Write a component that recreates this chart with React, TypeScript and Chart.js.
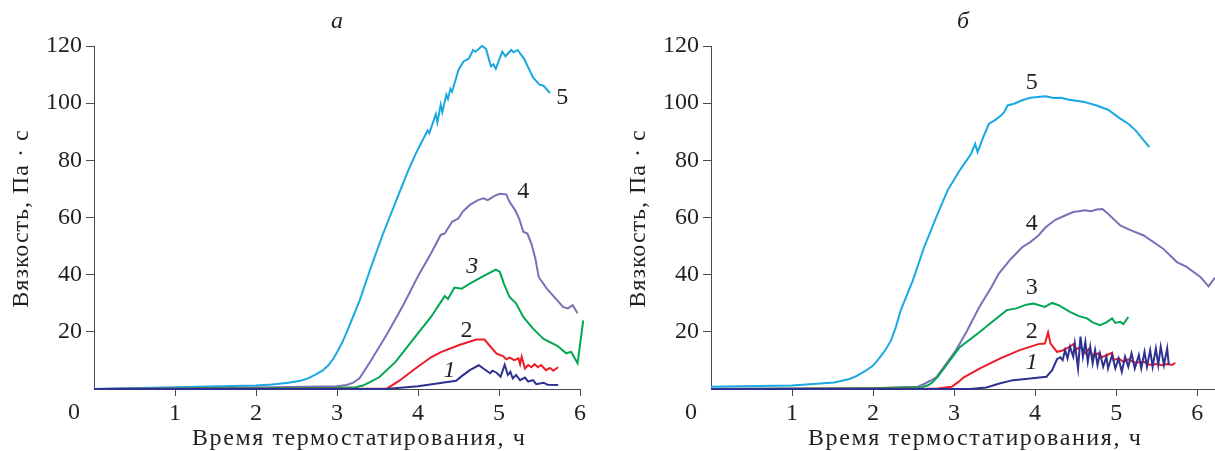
import React, { useEffect, useRef } from 'react';
import { Chart, registerables } from 'chart.js';

Chart.register(...registerables);

type Pt = [number, number];

// ---------- data: [time, viscosity] ----------
// Panel "а"
const A1: Pt[] = [[0,0],[3.6,0],[4.0,1.0],[4.3,2.2],[4.47,2.9],[4.54,4.5],[4.64,6.6],[4.75,8.3],[4.82,6.9],[4.89,5.5],[4.92,6.4],[4.97,5.7],[5.02,4.3],[5.07,8.5],[5.11,4.9],[5.14,6.0],[5.17,3.7],[5.21,4.9],[5.26,3.1],[5.32,4.0],[5.36,2.6],[5.42,3.1],[5.46,1.7],[5.55,2.2],[5.60,1.5],[5.73,1.4]];
const A2: Pt[] = [[0,0],[3.62,0.2],[3.77,2.9],[3.96,7.0],[4.16,11.1],[4.29,13.0],[4.51,15.4],[4.72,17.3],[4.82,17.3],[4.97,12.4],[5.05,11.5],[5.09,10.4],[5.13,11.0],[5.19,10.1],[5.24,10.7],[5.26,8.7],[5.28,11.3],[5.32,7.2],[5.36,8.4],[5.40,7.6],[5.44,8.7],[5.48,7.6],[5.52,8.4],[5.58,6.6],[5.63,7.4],[5.67,6.4],[5.73,7.6]];
const A3: Pt[] = [[0,0],[3.0,0.4],[3.23,0.6],[3.32,1.2],[3.40,2.3],[3.52,4.1],[3.72,9.4],[3.96,18.1],[4.16,25.2],[4.33,32.5],[4.37,31.5],[4.45,35.5],[4.54,35.1],[4.64,36.9],[4.79,39.2],[4.96,41.8],[5.01,41.0],[5.06,36.9],[5.13,32.2],[5.21,30.0],[5.30,25.2],[5.42,21.1],[5.55,17.5],[5.72,15.1],[5.83,12.5],[5.89,13.0],[5.97,9.0],[6.04,24.0]];
const A4: Pt[] = [[0,0],[2.0,0.5],[3.0,1.0],[3.12,1.4],[3.2,2.2],[3.28,3.8],[3.42,10],[3.62,19.3],[3.82,29.5],[4.01,40],[4.16,47.4],[4.28,53.9],[4.33,54.4],[4.42,58.5],[4.50,59.7],[4.55,62],[4.64,64.4],[4.74,66.1],[4.81,66.7],[4.86,66.1],[4.94,67.5],[5.01,68.3],[5.09,68.1],[5.13,65.5],[5.20,62.5],[5.25,59.5],[5.30,55],[5.35,54.4],[5.40,50.9],[5.45,45.5],[5.49,39.2],[5.59,35.1],[5.72,31],[5.79,28.7],[5.85,28.2],[5.91,29.3],[5.97,26.5]];
const A5: Pt[] = [[0,0],[1.0,0.6],[2.0,1.2],[2.2,1.6],[2.4,2.2],[2.55,2.9],[2.65,3.8],[2.74,5.1],[2.82,6.4],[2.89,8.2],[2.95,10.4],[3.01,13.3],[3.07,16.6],[3.13,20.5],[3.28,31],[3.42,42.7],[3.57,54.4],[3.76,68],[3.88,76.5],[3.98,82.8],[4.06,87.2],[4.12,90.4],[4.14,89.5],[4.22,96.2],[4.24,93.3],[4.28,99.5],[4.30,96.8],[4.35,103],[4.37,101.5],[4.40,105],[4.42,104],[4.50,111.6],[4.56,114.5],[4.63,115.7],[4.68,118.6],[4.71,118],[4.79,120],[4.84,119],[4.90,112.9],[4.93,113.6],[4.96,112],[5.04,118],[5.08,116.4],[5.15,118.6],[5.18,117.8],[5.23,118.6],[5.31,115.5],[5.42,109],[5.50,106.5],[5.55,106.1],[5.63,103.5]];

// Panel "б"
const B1: Pt[] = [[0,0],[3.2,0],[3.40,0.5],[3.57,2],[3.73,3.1],[3.94,3.7],[4.14,4.3],[4.21,6.6],[4.27,10.4],[4.31,11.1],[4.34,10.1],[4.37,13.6],[4.40,10.7],[4.43,14.8],[4.47,11.3],[4.49,15.9],[4.53,7.2],[4.56,18.3],[4.59,11.3],[4.62,16.5],[4.65,9.5],[4.68,14.8],[4.71,9],[4.74,13.6],[4.77,8.4],[4.80,12.5],[4.84,7.8],[4.88,11.3],[4.90,7.2],[4.95,11.9],[4.99,7.2],[5.03,10.7],[5.07,6],[5.11,11.3],[5.15,7.8],[5.19,12.5],[5.23,7.2],[5.28,11.9],[5.31,7.2],[5.35,13],[5.38,7.8],[5.42,13.6],[5.45,7.8],[5.49,14.2],[5.52,8.4],[5.55,14.8],[5.59,8.4],[5.63,14.2],[5.65,8.4]];
const B2: Pt[] = [[0,0],[2.8,0.2],[2.97,0.8],[3.05,2.4],[3.12,4.1],[3.32,7.2],[3.57,10.7],[3.81,13.6],[4.04,15.7],[4.12,15.9],[4.16,19.8],[4.19,15.9],[4.27,13],[4.33,13.4],[4.39,14.2],[4.43,14.8],[4.47,15.7],[4.51,13.9],[4.56,14.8],[4.62,12.5],[4.66,13.9],[4.72,11.5],[4.78,12.5],[4.82,11.1],[4.89,11.9],[4.95,12.7],[4.97,10.1],[5.03,10.7],[5.09,9.5],[5.15,10.4],[5.23,9.2],[5.34,9.5],[5.42,8.4],[5.50,8.7],[5.56,8.3],[5.63,8.7],[5.69,8.4],[5.73,9.2]];
const B3: Pt[] = [[0,0],[2.0,0.3],[2.6,0.6],[2.68,1.3],[2.73,2.3],[2.8,4.3],[2.87,7],[3.07,14.6],[3.32,20],[3.46,23.3],[3.65,27.6],[3.77,28.2],[3.89,29.5],[3.98,29.9],[4.12,28.7],[4.21,30.1],[4.29,29.3],[4.43,27],[4.54,25.5],[4.64,24.7],[4.71,23.3],[4.80,22.3],[4.88,23.3],[4.95,24.7],[4.99,23.1],[5.05,23.5],[5.09,22.7],[5.15,25.2]];
const B4: Pt[] = [[0,0],[2.0,0.3],[2.55,0.8],[2.63,1.75],[2.7,2.8],[2.78,4.1],[2.87,7.6],[3.02,13.4],[3.16,20.4],[3.31,28.6],[3.46,35.6],[3.55,40.3],[3.70,45.5],[3.84,49.6],[3.94,51.4],[4.04,53.7],[4.13,56.6],[4.25,59.2],[4.37,60.7],[4.47,61.9],[4.54,62.2],[4.61,62.5],[4.69,62.2],[4.76,62.8],[4.83,63],[4.90,61.3],[5.05,57.2],[5.17,55.7],[5.34,53.7],[5.58,49.1],[5.75,44.4],[5.87,42.7],[6.04,39.2],[6.14,35.9],[6.22,39]];
const B5: Pt[] = [[0,0.8],[1.0,1.2],[1.52,2.3],[1.71,3.5],[1.8,4.6],[1.91,6.4],[2.0,8.2],[2.05,9.8],[2.10,11.7],[2.16,14],[2.22,16.9],[2.28,21.5],[2.34,27.4],[2.49,37.9],[2.63,49.6],[2.78,60.1],[2.92,69.5],[3.07,76.5],[3.21,82.3],[3.26,85.8],[3.29,82.9],[3.36,88.1],[3.43,92.8],[3.50,94],[3.58,95.7],[3.62,96.9],[3.66,99.2],[3.74,99.8],[3.84,101],[3.94,101.9],[4.13,102.4],[4.23,101.8],[4.32,101.9],[4.42,101.2],[4.61,100.4],[4.76,99.2],[4.90,97.7],[5.05,94.6],[5.15,92.8],[5.24,90.5],[5.34,87],[5.41,84.6]];

const SERIES_NAMES = ['1', '2', '3', '4', '5'];
const PANEL_TITLES = ['а', 'б'];
const X_TITLE = 'Время термостатирования, ч';
const Y_TITLE = 'Вязкость, Па · с';
const X_STEP = 1;
const Y_MIN = 0;
const Y_MAX = 120;
const Y_STEP = 20;

// ---------- styles ----------
const COLORS = ['#2e3192', '#ed1c24', '#00a651', '#7a70b8', '#18a8e2'];
const AXIS = '#4a4a4a';
const TEXT = '#231f20';
const FAMILY = '"Liberation Serif", "DejaVu Serif", serif';

// label anchor positions (data coords) and italic flags
const LABELS_A: { t: number; v: number; italic: boolean }[] = [
  { t: 4.39, v: 6.4, italic: true },
  { t: 4.6, v: 20.5, italic: false },
  { t: 4.67, v: 42.7, italic: true },
  { t: 5.3, v: 69.1, italic: false },
  { t: 5.78, v: 101.9, italic: false },
];
const LABELS_B: { t: number; v: number; italic: boolean }[] = [
  { t: 3.96, v: 9.1, italic: true },
  { t: 3.96, v: 20.2, italic: false },
  { t: 3.96, v: 35.6, italic: false },
  { t: 3.96, v: 57.9, italic: false },
  { t: 3.96, v: 107.2, italic: false },
];

type PanelCfg = {
  title: string;
  series: Pt[][];
  labels: { t: number; v: number; italic: boolean }[];
  xMax: number;
  left: number;
  width: number;
  axisWidth: number;
  padRight: number;
  yTitleX: number;
  xTitleLeft: number;
};

const PANELS: PanelCfg[] = [
  { title: PANEL_TITLES[0], series: [A1, A2, A3, A4, A5], labels: LABELS_A, xMax: 6, left: 0, width: 607, axisWidth: 94, padRight: 27, yTitleX: 22, xTitleLeft: 192 },
  { title: PANEL_TITLES[1], series: [B1, B2, B3, B4, B5], labels: LABELS_B, xMax: 6.22, left: 607, width: 608, axisWidth: 104, padRight: 0, yTitleX: 32, xTitleLeft: 201 },
];

function Panel({ cfg }: { cfg: PanelCfg }) {
  const ref = useRef<HTMLCanvasElement>(null);
  useEffect(() => {
    const annot = {
      id: 'annot',
      afterDraw(chart: any) {
        const { ctx, chartArea } = chart;
        const x = chart.scales.x;
        const y = chart.scales.y;
        ctx.save();
        ctx.fillStyle = TEXT;
        ctx.textAlign = 'center';
        ctx.textBaseline = 'middle';
        // panel letter
        ctx.font = `italic 24px ${FAMILY}`;
        ctx.fillText(cfg.title, (chartArea.left + chartArea.right) / 2, 22);
        // origin label
        ctx.font = `24px ${FAMILY}`;
        ctx.fillText('0', x.getPixelForValue(0) - 20, 413);
        // curve labels
        cfg.labels.forEach((l, i) => {
          ctx.font = `${l.italic ? 'italic ' : ''}24px ${FAMILY}`;
          ctx.fillText(SERIES_NAMES[i], x.getPixelForValue(l.t), y.getPixelForValue(l.v));
        });
        // x axis title (left aligned at its start)
        ctx.font = `24px ${FAMILY}`;
        ctx.textAlign = 'left';
        (ctx as any).letterSpacing = '1.6px';
        ctx.fillText(X_TITLE, cfg.xTitleLeft, 439);
        // y axis title
        ctx.textAlign = 'center';
        (ctx as any).letterSpacing = '1px';
        ctx.translate(cfg.yTitleX, (chartArea.top + chartArea.bottom) / 2 + 1);
        ctx.rotate(-Math.PI / 2);
        ctx.fillText(Y_TITLE, 0, 0);
        ctx.restore();
      },
    };
    const chart = new Chart(ref.current as HTMLCanvasElement, {
      type: 'line',
      data: {
        datasets: cfg.series.map((s, i) => ({
          label: SERIES_NAMES[i],
          data: s.map(([t, v]) => ({ x: t, y: v })),
          borderColor: COLORS[i],
          backgroundColor: COLORS[i],
          borderWidth: 2,
          pointRadius: 0,
          tension: 0,
          fill: false,
          clip: false as any,
        })),
      },
      options: {
        responsive: false,
        animation: false,
        maintainAspectRatio: false,
        layout: { padding: { left: 0, right: cfg.padRight, top: 46, bottom: 0 } },
        plugins: { legend: { display: false }, tooltip: { enabled: false }, title: { display: false } },
        scales: {
          x: {
            type: 'linear',
            min: 0,
            max: cfg.xMax,
            afterFit: (s: any) => { s.height = 62; },
            ticks: {
              stepSize: X_STEP,
              includeBounds: false,
              autoSkip: false,
              maxRotation: 0,
              padding: 3,
              color: TEXT,
              font: { family: FAMILY, size: 24 },
              callback: (v: any) => (v === 0 ? '' : String(v)),
            },
            grid: {
              drawOnChartArea: false,
              drawTicks: true,
              tickLength: 7,
              color: (c: any) => (c.tick && c.tick.value === 0 ? 'rgba(0,0,0,0)' : AXIS),
            },
            border: { display: true, color: AXIS, width: 1 },
          },
          y: {
            type: 'linear',
            min: Y_MIN,
            max: Y_MAX,
            afterFit: (s: any) => { s.width = cfg.axisWidth; },
            ticks: {
              stepSize: Y_STEP,
              padding: 4,
              color: TEXT,
              font: { family: FAMILY, size: 24 },
              callback: (v: any) => (v === 0 ? '' : String(v)),
            },
            grid: {
              drawOnChartArea: false,
              drawTicks: true,
              tickLength: 8,
              color: (c: any) => (c.tick && c.tick.value === 0 ? 'rgba(0,0,0,0)' : AXIS),
            },
            border: { display: true, color: AXIS, width: 1 },
            title: { display: false },
          },
        },
      },
      plugins: [annot],
    });
    return () => chart.destroy();
  }, [cfg]);
  return (
    <canvas
      ref={ref}
      width={cfg.width}
      height={451}
      style={{ position: 'absolute', left: cfg.left, top: 0, width: cfg.width, height: 451 }}
    />
  );
}

export default function App() {
  return (
    <div style={{ position: 'absolute', left: 0, top: 0, width: 1215, height: 451, background: '#fff', overflow: 'hidden' }}>
      {PANELS.map((p) => (
        <Panel key={p.title} cfg={p} />
      ))}
    </div>
  );
}
